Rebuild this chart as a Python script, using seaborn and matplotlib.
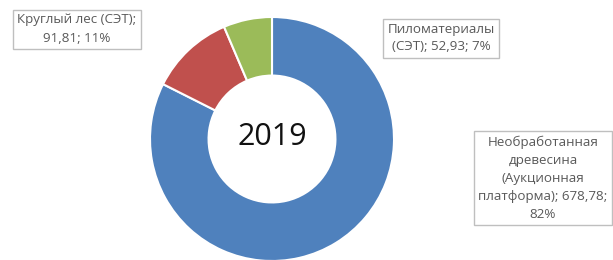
import matplotlib
matplotlib.use('Agg')
import matplotlib.pyplot as plt
import seaborn as sns

categories = ["Необработанная древесина (Аукционная платформа)",
              "Круглый лес (СЭТ)",
              "Пиломатериалы (СЭТ)"]
values = [678.78, 91.81, 52.93]
shares = [82, 11, 7]
colors = ["#4F81BD", "#C0504D", "#9BBB59"]
year = "2019"

label_texts = [
    "Необработанная\nдревесина\n(Аукционная\nплатформа); 678,78;\n82%",
    "Круглый лес (СЭТ);\n91,81; 11%",
    "Пиломатериалы\n(СЭТ); 52,93; 7%",
]
# label box centres in figure pixels (x, y from top)
label_pos = [(543, 178), (77, 29), (441, 38)]

sns.set_theme(style="white")
plt.rcParams['font.family'] = ['Open Sans', 'DejaVu Sans']

W, H = 613, 260
fig = plt.figure(figsize=(W / 100, H / 100), dpi=100)
fig.patch.set_facecolor("white")

cx, cy, r = 272, 139, 122
ax = fig.add_axes([(cx - r) / W, (H - cy - r) / H, 2 * r / W, 2 * r / H])
ax.pie(values, colors=colors, startangle=90, counterclock=False,
       radius=1.0, wedgeprops=dict(width=0.48, edgecolor="white", linewidth=1.5))
ax.set_xlim(-1, 1)
ax.set_ylim(-1, 1)
ax.set_aspect("equal")
ax.axis("off")
ax.text(0, 0.02, year, ha="center", va="center", fontsize=22, color="#111111")

for txt, (x, y) in zip(label_texts, label_pos):
    fig.text(x / W, 1 - y / H, txt, ha="center", va="center", fontsize=9.6,
             color="#595959", linespacing=1.5,
             bbox=dict(boxstyle="square,pad=0.3", facecolor="white",
                       edgecolor="#BFBFBF", linewidth=1))

fig.savefig("out.png", dpi=100, facecolor="white")
